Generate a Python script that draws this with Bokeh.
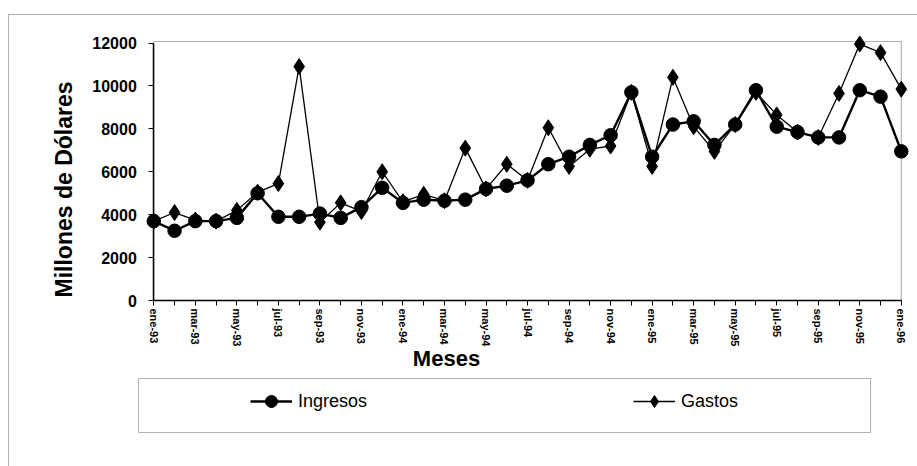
import math

from bokeh.embed import file_html
from bokeh.models import (BoxAnnotation, FixedTicker, Label, Legend,
                          LegendItem, Range1d)
from bokeh.plotting import figure
from bokeh.resources import INLINE

# Monthly series, ene-93 .. ene-96 (millones de dólares)
meses = ["ene", "feb", "mar", "abr", "may", "jun",
         "jul", "ago", "sep", "oct", "nov", "dic"]
anios = ["93", "94", "95", "96"]
etiquetas = [f"{m}-{a}" for a in anios for m in meses][:37]

ingresos = [3700, 3250, 3700, 3700, 3850, 5000, 3900, 3900, 4050, 3850,
            4350, 5250, 4550, 4700, 4650, 4700, 5200, 5350, 5600, 6350,
            6700, 7250, 7700, 9700, 6700, 8200, 8350, 7250, 8200, 9800,
            8100, 7850, 7600, 7600, 9800, 9500, 6950]
gastos = [3700, 4100, 3750, 3700, 4200, 5050, 5450, 10900, 3650, 4550,
          4150, 6000, 4600, 4950, 4650, 7100, 5200, 6350, 5600, 8050,
          6250, 7050, 7200, 9700, 6250, 10400, 8100, 6950, 8200, 9700,
          8650, 7850, 7600, 9650, 11950, 11550, 9850]
y_ticks = [0, 2000, 4000, 6000, 8000, 10000, 12000]

idx = list(range(len(etiquetas)))
FONT = "Liberation Sans"

# ---- page geometry (pixels) ----
W, H = 917, 466
X_FIRST, X_LAST = 153.3, 900.8      # where the first / last month sit
Y_ZERO, Y_TOP_TICK = 300.0, 42.5    # where 0 and 12000 sit
ppx = (X_LAST - X_FIRST) / (len(idx) - 1)
ppy = (Y_ZERO - Y_TOP_TICK) / y_ticks[-1]


def dx(px):
    return (px - X_FIRST) / ppx


def dy(py):
    return (Y_ZERO - py) / ppy


# the frame covers the whole page; the axes sit on x = 0 and y = 0
p = figure(width=W, height=H,
           x_range=Range1d(dx(0), dx(W)), y_range=Range1d(dy(H), dy(0)),
           output_backend="svg", toolbar_location=None,
           min_border=0, min_border_left=0, min_border_right=0,
           min_border_top=0, min_border_bottom=0)
p.outline_line_color = None
p.xgrid.visible = False
p.ygrid.visible = False
p.background_fill_color = "white"
p.border_fill_color = "white"

# series: Gastos underneath, Ingresos on top
g_line = p.line(idx, gastos, line_color="black", line_width=1.3)
g_pts = p.scatter(idx, gastos, marker="diamond", size=16,
                  fill_color="black", line_color="black")
i_line = p.line(idx, ingresos, line_color="black", line_width=2.4)
i_pts = p.scatter(idx, ingresos, marker="circle", size=13.5,
                  fill_color="black", line_color="black")

# x axis: a tick each month, a label every second month
xa = p.xaxis[0]
xa.fixed_location = 0
xa.ticker = FixedTicker(ticks=idx[::2], minor_ticks=idx[1::2])
xa.major_label_overrides = {i: etiquetas[i] for i in idx[::2]}
xa.major_label_orientation = -math.pi / 2
xa.bounds = (0, idx[-1])
xa.major_tick_in = 0
xa.major_tick_out = 5
xa.minor_tick_in = 0
xa.minor_tick_out = 5
xa.axis_line_width = 1.5
xa.major_label_text_font = FONT
xa.major_label_text_font_style = "bold"
xa.major_label_text_font_size = "11px"
xa.major_label_text_color = "black"
xa.major_label_standoff = 3

# y axis
ya = p.yaxis[0]
ya.fixed_location = 0
ya.ticker = FixedTicker(ticks=y_ticks)
ya.bounds = (0, y_ticks[-1])
ya.major_tick_in = 0
ya.major_tick_out = 5
ya.minor_tick_out = 0
ya.minor_tick_in = 0
ya.axis_line_width = 1.5
ya.major_label_text_font = FONT
ya.major_label_text_font_style = "bold"
ya.major_label_text_font_size = "16px"
ya.major_label_text_color = "black"
ya.major_label_standoff = 12

# plot-area frame
p.add_layout(BoxAnnotation(left=0, right=idx[-1], bottom=0, top=dy(41),
                           fill_color=None, line_color="black",
                           line_width=1.2))

# axis titles
p.add_layout(Label(x=dx(446), y=dy(358), text="Meses",
                   text_align="center", text_baseline="middle",
                   text_font=FONT, text_font_style="bold",
                   text_font_size="22px", text_color="black"))
p.add_layout(Label(x=dx(63), y=dy(189), text="Millones de Dólares",
                   angle=math.pi / 2,
                   text_align="center", text_baseline="middle",
                   text_font=FONT, text_font_style="bold",
                   text_font_size="23px", text_color="black"))

# chart border and legend box
p.add_layout(BoxAnnotation(left=dx(8), right=dx(940), top=dy(14),
                           bottom=dy(480), fill_color=None,
                           line_color="black", line_width=1))
p.add_layout(BoxAnnotation(left=dx(138), right=dx(870), top=dy(378),
                           bottom=dy(432), fill_color=None,
                           line_color="black", line_width=1))

legend = Legend(items=[LegendItem(label="Ingresos", renderers=[i_line, i_pts]),
                       LegendItem(label="Gastos", renderers=[g_line, g_pts])],
                orientation="horizontal", location=(250, 50),
                border_line_color=None, background_fill_alpha=0,
                padding=0, margin=0, spacing=265,
                glyph_width=42, glyph_height=30, label_standoff=6,
                label_width=70, label_height=20,
                label_text_font=FONT, label_text_font_size="18px",
                label_text_color="black")
p.add_layout(legend)

open("out.html", "w").write(file_html(p, INLINE))
